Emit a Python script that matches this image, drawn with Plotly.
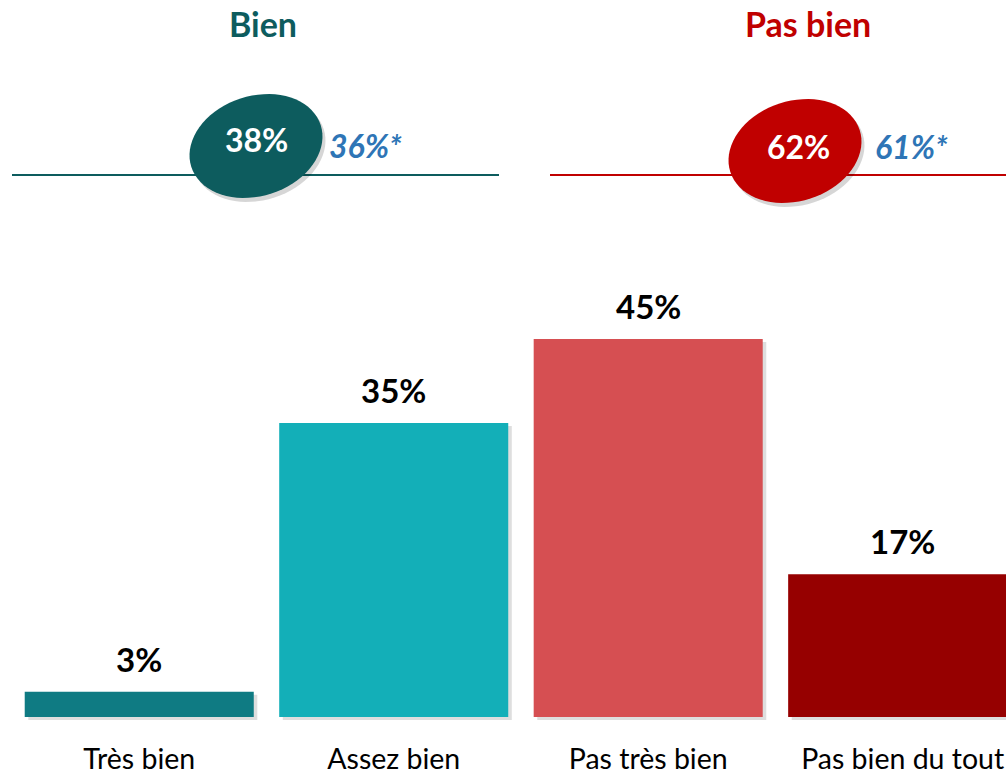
import math
import plotly.graph_objects as go

# ---- data ----
categories = ["Très bien", "Assez bien", "Pas très bien", "Pas bien du tout"]
values = [3, 35, 45, 17]
bar_colors = ["#0F7B83", "#13AFB8", "#D64F52", "#960000"]

groups = ["Bien", "Pas bien"]
group_totals = [38, 62]
group_previous = [36, 61]
group_colors = ["#0D5C5E", "#C00000"]

# ---- layout geometry (pixels) ----
W, H = 1006, 771
ML, MR, MT, MB = 12, 0, 302, 49
PW, PH = W - ML - MR, H - MT - MB
FONT = "Lato"


def px(x):
    return (x - ML) / PW


def py(y):
    return (H - MB - y) / PH


def ellipse_path(cx, cy, a, b, ang_deg, n=72):
    t = math.radians(ang_deg)
    pts = []
    for k in range(n):
        s = 2 * math.pi * k / n
        ex, ey = a * math.cos(s), b * math.sin(s)
        x = cx + ex * math.cos(t) - ey * math.sin(t)
        y = cy - (ex * math.sin(t) + ey * math.cos(t))
        pts.append(f"{px(x):.5f},{py(y):.5f}")
    return "M " + " L ".join(pts) + " Z"


fig = go.Figure()
# soft shadow behind bars
fig.add_trace(go.Bar(
    x=categories, y=values, base=-0.35, width=0.9, offset=-0.45 + 0.014,
    marker_color="rgba(0,0,0,0.13)", marker_line_width=0,
    hoverinfo="skip", showlegend=False,
))
fig.add_trace(go.Bar(
    x=categories, y=values, marker_color=bar_colors, width=0.9, offset=-0.45,
    marker_line_width=0, hoverinfo="skip", showlegend=False,
))

annotations = []
for c, v in zip(categories, values):
    annotations.append(dict(
        x=c, y=v, xref="x", yref="y", text=f"<b>{v}%</b>", showarrow=False,
        yanchor="bottom", yshift=11, font=dict(family=FONT, size=33, color="#000000"),
    ))

shapes = []
header = [
    dict(title_x=263, line=(12, 499), ell=(256, 146), tot=(256, 139), prev=(365, 145)),
    dict(title_x=808, line=(550, 1006), ell=(795, 151), tot=(798, 146), prev=(911, 146)),
]
for g, tot, prev, col, hd in zip(groups, group_totals, group_previous, group_colors, header):
    annotations.append(dict(
        x=px(hd["title_x"]), y=py(24), xref="paper", yref="paper", text=f"<b>{g}</b>",
        showarrow=False, xanchor="center", yanchor="middle",
        font=dict(family=FONT, size=34, color=col),
    ))
    shapes.append(dict(type="line", xref="paper", yref="paper",
                       x0=px(hd["line"][0]), x1=px(hd["line"][1]), y0=py(175), y1=py(175),
                       line=dict(color=col, width=2)))
    cx, cy = hd["ell"]
    shapes.append(dict(type="path", xref="paper", yref="paper",
                       path=ellipse_path(cx + 3, cy + 4, 68, 50, 18),
                       fillcolor="rgba(0,0,0,0.16)", line=dict(width=0)))
    shapes.append(dict(type="path", xref="paper", yref="paper",
                       path=ellipse_path(cx, cy, 68, 50, 18),
                       fillcolor=col, line=dict(width=0)))
    annotations.append(dict(
        x=px(hd["tot"][0]), y=py(hd["tot"][1]), xref="paper", yref="paper", text=f"<b>{tot}%</b>",
        showarrow=False, xanchor="center", yanchor="middle",
        font=dict(family=FONT, size=32, color="#FFFFFF"),
    ))
    annotations.append(dict(
        x=px(hd["prev"][0]), y=py(hd["prev"][1]), xref="paper", yref="paper",
        text=f"<b><i>{prev}%*</i></b>",
        showarrow=False, xanchor="center", yanchor="middle",
        font=dict(family=FONT, size=32, color="#2E75B6"),
    ))

fig.update_layout(
    width=W, height=H,
    margin=dict(l=ML, r=MR, t=MT, b=MB, pad=0, autoexpand=False),
    paper_bgcolor="white", plot_bgcolor="white",
    showlegend=False,
    barmode="overlay",
    annotations=annotations,
    shapes=shapes,
    font=dict(family=FONT),
)
fig.update_xaxes(
    range=[-0.5, 3.406], showgrid=False, zeroline=False, showline=False, automargin=False,
    ticks="outside", ticklen=12, tickcolor="rgba(0,0,0,0)",
    tickfont=dict(family=FONT, size=28.5, color="#000000"),
)
fig.update_yaxes(range=[-0.6, 49.4], visible=False, showgrid=False, zeroline=False,
                 automargin=False)

fig.write_html(
    "out.html",
    config={"displayModeBar": False},
    post_script="document.body.style.margin='0px';document.body.style.overflow='hidden';",
)
